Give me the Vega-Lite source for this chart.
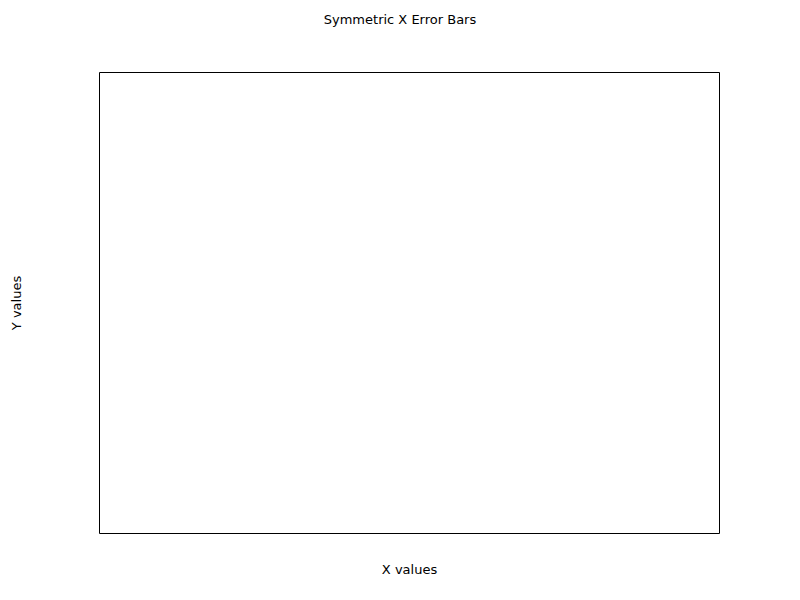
{
  "$schema": "https://vega.github.io/schema/vega-lite/v6.json",
  "width": 620,
  "height": 461,
  "autosize": {"type": "none"},
  "padding": {"left": 99, "top": 72, "right": 81, "bottom": 67},
  "background": "white",
  "title": {
    "text": "Symmetric X Error Bars",
    "font": "DejaVu Sans",
    "fontSize": 13,
    "fontWeight": "normal",
    "color": "black",
    "anchor": "middle",
    "dx": -9,
    "offset": 45
  },
  "config": {
    "view": {"stroke": "black", "strokeWidth": 1},
    "font": "DejaVu Sans"
  },
  "data": {"values": [
    {"x": null, "y": null, "xerr": null}
  ]},
  "mark": {"type": "point", "color": "#1f77b4"},
  "encoding": {
    "x": {
      "field": "x", "type": "quantitative",
      "scale": {"domain": [0, 1]},
      "axis": {
        "title": "X values", "ticks": false, "labels": false, "domain": false, "grid": false,
        "titleFont": "DejaVu Sans", "titleFontSize": 13, "titleFontWeight": "normal", "titleColor": "black",
        "titlePadding": 30
      }
    },
    "y": {
      "field": "y", "type": "quantitative",
      "scale": {"domain": [0, 1]},
      "axis": {
        "title": "Y values", "ticks": false, "labels": false, "domain": false, "grid": false,
        "titleFont": "DejaVu Sans", "titleFontSize": 13, "titleFontWeight": "normal", "titleColor": "black",
        "titlePadding": 76
      }
    }
  }
}
